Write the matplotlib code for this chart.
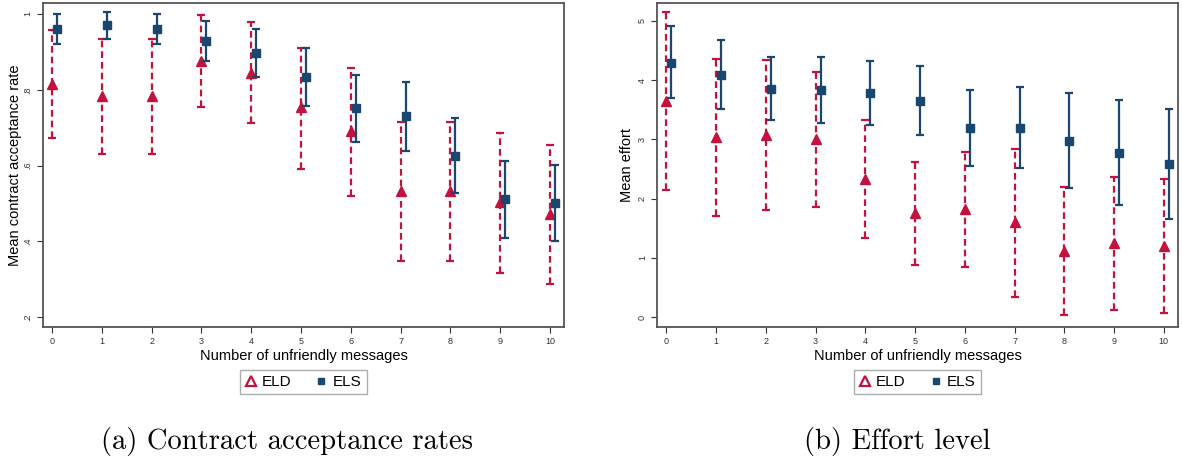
import matplotlib.pyplot as plt
from matplotlib.lines import Line2D
import numpy as np

# Number of unfriendly messages
messages = np.arange(11)

# (a) contract acceptance rates
acc_eld = [0.814, 0.783, 0.783, 0.877, 0.845, 0.754, 0.691, 0.533, 0.533, 0.505, 0.472]
acc_eld_hi = [0.958, 0.935, 0.935, 0.997, 0.978, 0.911, 0.858, 0.714, 0.714, 0.685, 0.653]
acc_eld_lo = [0.672, 0.631, 0.631, 0.754, 0.712, 0.592, 0.519, 0.349, 0.349, 0.316, 0.287]
acc_els = [0.960, 0.970, 0.960, 0.929, 0.897, 0.835, 0.751, 0.731, 0.626, 0.511, 0.500]
acc_els_hi = [1.000, 1.006, 1.000, 0.981, 0.960, 0.911, 0.839, 0.821, 0.725, 0.612, 0.602]
acc_els_lo = [0.921, 0.935, 0.921, 0.875, 0.835, 0.758, 0.663, 0.639, 0.527, 0.410, 0.400]

# (b) effort level
eff_eld = [3.65, 3.04, 3.08, 3.01, 2.33, 1.75, 1.83, 1.60, 1.12, 1.26, 1.21]
eff_eld_hi = [5.15, 4.36, 4.34, 4.13, 3.33, 2.62, 2.79, 2.83, 2.20, 2.37, 2.33]
eff_eld_lo = [2.14, 1.70, 1.81, 1.86, 1.34, 0.88, 0.85, 0.35, 0.03, 0.12, 0.07]
eff_els = [4.29, 4.09, 3.85, 3.83, 3.78, 3.65, 3.19, 3.19, 2.98, 2.77, 2.58]
eff_els_hi = [4.91, 4.67, 4.39, 4.39, 4.32, 4.24, 3.83, 3.89, 3.78, 3.67, 3.51]
eff_els_lo = [3.69, 3.51, 3.32, 3.27, 3.24, 3.08, 2.55, 2.51, 2.18, 1.89, 1.65]

acc_ticks = [0.2, 0.4, 0.6, 0.8, 1.0]
acc_ticklabels = ['.2', '.4', '.6', '.8', '1']
eff_ticks = [0, 1, 2, 3, 4, 5]

RED = '#c4123f'
NAVY = '#1a476f'

plt.rcParams['font.family'] = ['Liberation Sans', 'DejaVu Sans']

fig = plt.figure(figsize=(11.82, 4.69), dpi=100)


def panel(ax, eld, eld_lo, eld_hi, els, els_lo, els_hi):
    eld = np.array(eld); els = np.array(els)
    err_d = [eld - np.array(eld_lo), np.array(eld_hi) - eld]
    err_s = [els - np.array(els_lo), np.array(els_hi) - els]
    e1 = ax.errorbar(messages, eld, yerr=err_d, fmt='^', color=RED, ms=6.5,
                     elinewidth=1.6, capsize=3, capthick=1.6, zorder=2)
    e1[2][0].set_linestyle((0, (3, 1.8)))
    ax.errorbar(messages + 0.1, els, yerr=err_s, fmt='s', color=NAVY, ms=5.5,
                elinewidth=1.6, capsize=3, capthick=1.6, zorder=3)
    ax.set_xlim(-0.18, 10.28)
    ax.set_xticks(messages)
    ax.tick_params(axis='both', labelsize=6.5, length=4, width=0.8, colors='#333333')
    for s in ax.spines.values():
        s.set_color('#555555')
        s.set_linewidth(1.3)
    ax.set_xlabel('Number of unfriendly messages', fontsize=10.5, labelpad=2)


axa = fig.add_axes([0.0364, 0.3028, 0.4408, 0.6908])
panel(axa, acc_eld, acc_eld_lo, acc_eld_hi, acc_els, acc_els_lo, acc_els_hi)
axa.set_ylim(0.174, 1.029)
axa.set_yticks(acc_ticks)
axa.set_yticklabels(acc_ticklabels, rotation=90, va='center')
axa.set_ylabel('Mean contract acceptance rate', fontsize=10.5, labelpad=1)

axb = fig.add_axes([0.5561, 0.3028, 0.4403, 0.6908])
panel(axb, eff_eld, eff_eld_lo, eff_eld_hi, eff_els, eff_els_lo, eff_els_hi)
axb.set_ylim(-0.164, 5.30)
axb.set_yticks(eff_ticks)
axb.set_yticklabels([str(t) for t in eff_ticks], rotation=90, va='center')
axb.set_ylabel('Mean effort', fontsize=10.5, labelpad=3)

handles = [Line2D([], [], ls='none', marker='^', ms=6.5, mfc='white', mec=RED, mew=1.6),
           Line2D([], [], ls='none', marker='s', ms=5, color=NAVY)]
for cx in (0.2567, 0.7763):
    leg = fig.legend(handles, ['ELD', 'ELS'], loc='center', bbox_to_anchor=(cx, 0.1855),
                     ncol=2, fontsize=11, frameon=True, fancybox=False,
                     handlelength=0.7, handletextpad=0.4, columnspacing=1.6,
                     borderpad=0.35, borderaxespad=0)
    leg.get_frame().set_edgecolor('#999999')
    leg.get_frame().set_linewidth(1.0)

fig.text(0.2428, 0.058, '(a) Contract acceptance rates', ha='center', va='center',
         family='cmr10', fontsize=20.6)
fig.text(0.7589, 0.058, '(b) Effort level', ha='center', va='center',
         family='cmr10', fontsize=20.6)

fig.savefig('out.png', dpi=100)
